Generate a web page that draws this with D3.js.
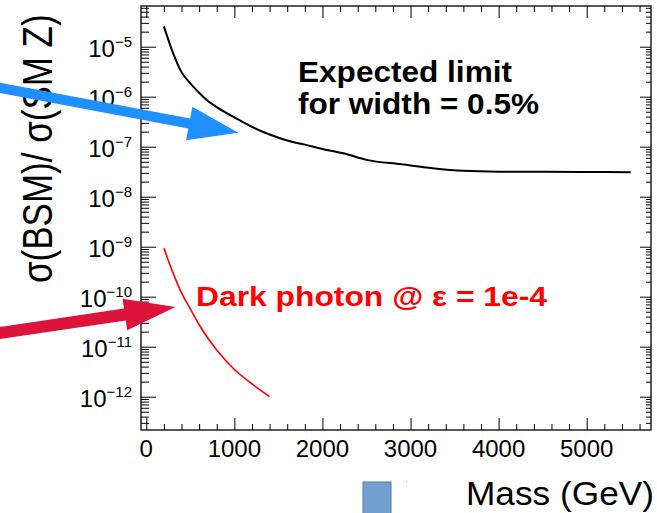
<!DOCTYPE html>
<html>
<head>
<meta charset="utf-8">
<script src="https://cdn.jsdelivr.net/npm/d3@7"></script>
<style>
  body { margin: 0; background: #fff; }
  svg { display: block; }
  text { font-family: "Liberation Sans", Arial, Helvetica, sans-serif; }
</style>
</head>
<body>
<div id="grafico"></div>
<script>
/*************************** DADOS ***************************/
// limite esperado (largura = 0.5%)
var massasLimite  = [200, 300, 400, 500, 600, 700, 800, 1000, 1200, 1400, 1600, 1800, 2000, 2250, 2500, 2900, 3250, 3600, 4000, 4500, 5000, 5500];
var valoresLimite = [2.55e-5, 7.8e-6, 3.1e-6, 1.85e-6, 1.2e-6, 8.2e-7, 6.2e-7, 3.85e-7, 2.5e-7, 1.75e-7, 1.33e-7, 1.1e-7, 9.0e-8, 7.3e-8, 5.45e-8, 4.45e-8, 3.72e-8, 3.3e-8, 3.17e-8, 3.15e-8, 3.12e-8, 3.08e-8];
// foton escuro @ eps = 1e-4
var massasFoton  = [200, 300, 400, 500, 600, 800, 1000, 1200, 1400];
var valoresFoton = [9.3e-10, 3.1e-10, 1.19e-10, 5.7e-11, 2.75e-11, 8.6e-12, 3.5e-12, 1.8e-12, 1.0e-12];
// rotulos dos eixos
var ticksX = [0, 1000, 2000, 3000, 4000, 5000];
var expoentesY = [-12, -11, -10, -9, -8, -7, -6, -5];
// pontas das setas (em coordenadas dos dados)
var pontaAzul = [1045, 1.9e-7];
var pontaVermelha = [330, 6.2e-11];

/*************************** DECLARAÇÃO DE VARIÁVEIS ***************************/
var largura = 657, altura = 513;
var esq = 141, dir = 651, topo = 6, base = 430;   // moldura do grafico
var azul = '#1e90ff';
var carmim = '#dc143c';
var vermelho = '#ff0000';

var svg = d3.select('#grafico')
    .append('svg')
    .attr('width', largura)
    .attr('height', altura);

var x = d3.scaleLinear().domain([-60, 5730]).range([esq, dir]);
var y = d3.scaleLog().domain([Math.pow(10, -12.666), Math.pow(10, -4.186)]).range([base, topo]);

// ticks menores
var menoresX = d3.range(200, 5730, 200).filter(function (d) { return d % 1000 !== 0; });
var menoresY = [];
for (var e = -13; e <= -5; e++) {
    for (var k = 2; k <= 9; k++) {
        var v = k * Math.pow(10, e);
        if (v >= y.domain()[0] && v <= y.domain()[1]) menoresY.push(v);
    }
}
var maioresY = expoentesY.map(function (p) { return Math.pow(10, p); });

/*************************** EIXOS ***************************/
function eixo(gerador, valores, tam, transl) {
    svg.append('g')
        .attr('transform', transl)
        .call(gerador.tickValues(valores).tickSize(-tam).tickFormat(''))
        .call(function (g) { g.select('.domain').remove(); })
        .selectAll('line')
        .attr('stroke', '#000')
        .attr('stroke-width', 1);
}

eixo(d3.axisBottom(x), ticksX, 12, 'translate(0,' + base + ')');
eixo(d3.axisBottom(x), menoresX, 6, 'translate(0,' + base + ')');
eixo(d3.axisTop(x), ticksX, 12, 'translate(0,' + topo + ')');
eixo(d3.axisTop(x), menoresX, 6, 'translate(0,' + topo + ')');
eixo(d3.axisLeft(y), maioresY, 15, 'translate(' + esq + ',0)');
eixo(d3.axisLeft(y), menoresY, 8, 'translate(' + esq + ',0)');
eixo(d3.axisRight(y), maioresY, 11, 'translate(' + dir + ',0)');
eixo(d3.axisRight(y), menoresY, 5, 'translate(' + dir + ',0)');

// moldura
svg.append('rect')
    .attr('x', esq).attr('y', topo)
    .attr('width', dir - esq).attr('height', base - topo)
    .attr('fill', 'none')
    .attr('stroke', '#000')
    .attr('stroke-width', 1.3);

// rotulos X
svg.append('g').selectAll('text')
    .data(ticksX)
    .enter()
    .append('text')
    .attr('x', function (d) { return x(d); })
    .attr('y', 457)
    .attr('text-anchor', 'middle')
    .style('font-size', '24px')
    .text(function (d) { return d; });

// rotulos Y (10^n)
var rotY = svg.append('g').selectAll('text')
    .data(expoentesY)
    .enter()
    .append('text')
    .attr('x', 132)
    .attr('y', function (d) { return y(Math.pow(10, d)) + 10; })
    .attr('text-anchor', 'end')
    .style('font-size', '24px');
rotY.append('tspan').text('10');
rotY.append('tspan')
    .attr('dy', -10)
    .style('font-size', '15px')
    .text(function (d) { return '\u2212' + Math.abs(d); });

// titulos dos eixos
svg.append('text')
    .attr('transform', 'translate(52,283) rotate(-90) scale(1,1.2)')
    .style('font-size', '35px')
    .text('\u03c3(BSM)/ \u03c3(SM Z)');

svg.append('text')
    .attr('x', 654).attr('y', 505)
    .attr('text-anchor', 'end')
    .attr('textLength', 188)
    .attr('lengthAdjust', 'spacingAndGlyphs')
    .style('font-size', '34px')
    .text('Mass (GeV)');

/*************************** CURVAS ***************************/
var linha = d3.line()
    .curve(d3.curveMonotoneX)
    .x(function (d) { return x(d[0]); })
    .y(function (d) { return y(d[1]); });

svg.append('path')
    .datum(d3.zip(massasLimite, valoresLimite))
    .attr('d', linha)
    .attr('fill', 'none')
    .attr('stroke', '#000')
    .attr('stroke-width', 2);

svg.append('path')
    .datum(d3.zip(massasFoton, valoresFoton))
    .attr('d', linha)
    .attr('fill', 'none')
    .attr('stroke', vermelho)
    .attr('stroke-width', 1.6);

/*************************** TEXTOS ***************************/
svg.append('text')
    .attr('x', 298).attr('y', 82)
    .attr('textLength', 214)
    .attr('lengthAdjust', 'spacingAndGlyphs')
    .style('font-size', '29px').style('font-weight', 'bold')
    .text('Expected limit');

svg.append('text')
    .attr('x', 298).attr('y', 114)
    .attr('textLength', 241)
    .attr('lengthAdjust', 'spacingAndGlyphs')
    .style('font-size', '29px').style('font-weight', 'bold')
    .text('for width = 0.5%');

svg.append('text')
    .attr('x', 196).attr('y', 306)
    .attr('textLength', 351)
    .attr('lengthAdjust', 'spacingAndGlyphs')
    .style('font-size', '28px').style('font-weight', 'bold')
    .attr('fill', vermelho)
    .text('Dark photon @ \u03b5 = 1e-4');

/*************************** SETAS ***************************/
// desenha uma seta da cauda (pixels) ate a ponta
function seta(cauda, ponta, espessura, compCabeca, meiaCabeca, cor) {
    var dx = ponta[0] - cauda[0], dy = ponta[1] - cauda[1];
    var n = Math.sqrt(dx * dx + dy * dy);
    var ux = dx / n, uy = dy / n;          // direcao
    var px = -uy, py = ux;                 // perpendicular
    var bx = ponta[0] - ux * compCabeca, by = ponta[1] - uy * compCabeca;
    var w = espessura / 2;
    var pts = [
        [cauda[0] + px * w, cauda[1] + py * w],
        [bx + px * w, by + py * w],
        [bx + px * meiaCabeca, by + py * meiaCabeca],
        [ponta[0], ponta[1]],
        [bx - px * meiaCabeca, by - py * meiaCabeca],
        [bx - px * w, by - py * w],
        [cauda[0] - px * w, cauda[1] - py * w]
    ];
    svg.append('polygon')
        .attr('points', pts.map(function (p) { return p[0] + ',' + p[1]; }).join(' '))
        .attr('fill', cor);
}

seta([-10, 86], [x(pontaAzul[0]), y(pontaAzul[1])], 10, 50, 17, azul);
seta([-10, 334.5], [x(pontaVermelha[0]), y(pontaVermelha[1])], 12, 51, 16, carmim);

/*************************** RODAPE ***************************/
svg.append('rect')
    .attr('x', 363).attr('y', 482)
    .attr('width', 28).attr('height', 40)
    .attr('fill', '#729fcf')
    .attr('stroke', '#4f7cb5')
    .attr('stroke-width', 1);

svg.append('rect')
    .attr('x', 406).attr('y', 481)
    .attr('width', 1).attr('height', 1)
    .attr('fill', '#9ab6d8');
</script>
</body>
</html>
